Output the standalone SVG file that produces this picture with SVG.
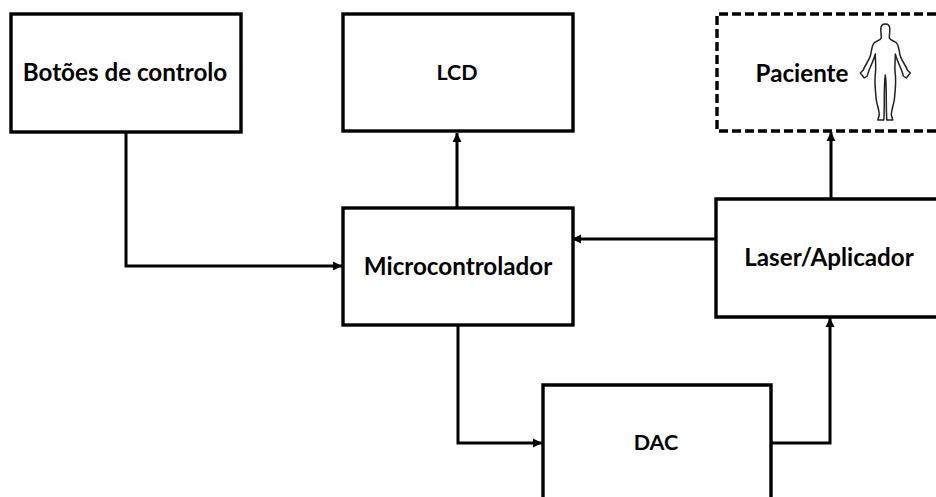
<svg xmlns="http://www.w3.org/2000/svg" width="936" height="497" viewBox="0 0 936 497">
<style>
.b{fill:#fff;stroke:#000;stroke-width:3.4}
.d{fill:none;stroke:#000;stroke-width:3.4;stroke-dasharray:9 4}
.c{fill:none;stroke:#000;stroke-width:3}
text{font-family:Lato,"Open Sans","Liberation Sans",sans-serif;font-weight:700;font-size:24.2px;fill:#000;text-anchor:middle}
text.s{font-size:21.5px}
</style>
<defs><marker id="a" markerUnits="userSpaceOnUse" markerWidth="10" markerHeight="10" refX="9" refY="5" orient="auto"><path d="M0 0.500L9 5L0 9.500z" fill="#000"/></marker></defs>
<rect width="936" height="497" fill="#fff"/>
<g id="connectors">
<path class="c" d="M126 133V266H342" marker-end="url(#a)"/>
<path class="c" d="M457 208V133" marker-end="url(#a)"/>
<path class="c" d="M716 239H572" marker-end="url(#a)"/>
<path class="c" d="M831 199V132" marker-end="url(#a)"/>
<path class="c" d="M458 325V443H542" marker-end="url(#a)"/>
<path class="c" d="M772 443H830V318" marker-end="url(#a)"/>
</g>
<g id="botoes"><rect class="b" x="11" y="14" width="230" height="118"/><text x="125" y="81">Botões de controlo</text></g>
<g id="lcd"><rect class="b" x="343" y="14" width="230" height="117"/><text class="s" x="457" y="80">LCD</text></g>
<g id="paciente"><path class="d" d="M936 14H717V131H936"/><text x="802" y="82">Paciente</text>
<path transform="translate(885.3 0)" fill="#fff" stroke="#222" stroke-width="1.5" stroke-linejoin="round" d="M0 24C-3 24-4.500 26-4.500 29C-4.500 33-4 36-4 38C-5 41-11 41-12 44C-14 48-14 53-15 56C-17 62-21 66-22 70L-25 73L-21 78L-18 76C-17 70-12 62-10 54C-10 62-9 67-10 74C-11 82-10 90-9 100C-8 106-6 110-6 115L-7.500 120H-1.500C-1 112-1 105-1 98C-1 90-1 82 0 75C1 82 1 90 1 98C1 105 1 112 1.500 120H7.500L6 115C6 110 8 106 9 100C10 90 11 82 10 74C9 67 10 62 10 54C12 62 17 70 18 76L21 78L25 73L22 70C21 66 17 62 15 56C14 53 14 48 12 44C11 41 5 41 4 38C4 36 4.500 33 4.500 29C4.500 26 3 24 0 24Z"/></g>
<g id="micro"><rect class="b" x="343" y="208" width="230" height="117"/><text x="458" y="275">Microcontrolador</text></g>
<g id="laser"><path class="b" d="M936 199H716V317H936"/><text x="829" y="266">Laser/Aplicador</text></g>
<g id="dac"><path class="b" d="M543 497V385H771V497"/><text class="s" x="656" y="450">DAC</text></g>
</svg>
